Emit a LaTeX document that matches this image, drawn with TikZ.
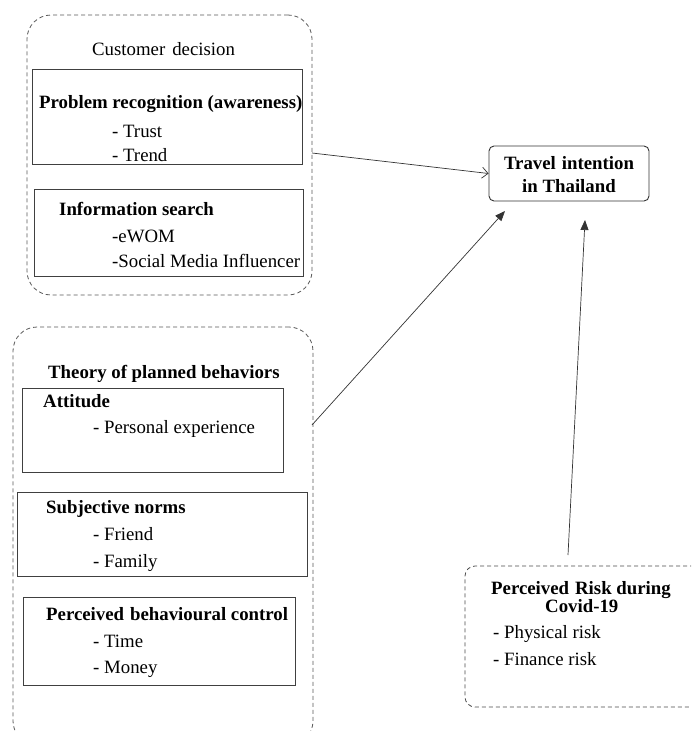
\documentclass[tikz,border=0pt]{standalone}
\usepackage{fontspec}
\setmainfont{Liberation Serif}
\usetikzlibrary{arrows.meta}
\begin{document}
\begin{tikzpicture}[x=1pt,y=-1pt,
  outerbox/.style={draw=black!65,line width=0.8pt,dash pattern=on 4pt off 3pt,rounded corners=24pt},
  riskbox/.style={draw=black!70,line width=0.8pt,dash pattern=on 4pt off 3pt,rounded corners=10pt},
  innerbox/.style={draw=black!75,line width=0.9pt},
  txt/.style={anchor=base west,inner sep=0pt,font=\fontsize{18.8}{22}\selectfont},
  btxt/.style={txt,font=\fontsize{18.8}{22}\selectfont\bfseries},
  conn/.style={draw=black!80,line width=0.7pt},
  filltip/.style={-{Triangle[length=10pt,width=8pt]}},
  opentip/.style={-{Straight Barb[length=6pt,width=11pt]}}
]
\useasboundingbox (0,0) rectangle (691,731);
\clip (0,0) rectangle (691,731);
\fill[white] (0,0) rectangle (691,731);

% Customer decision group
\node[outerbox,inner sep=0pt,minimum width=285pt,minimum height=280pt] (cd) at (169.5,155) {};
\node[txt] (cdt) at (92,55) {Customer\hspace{7pt}decision};
\node[innerbox,inner sep=0pt,minimum width=270pt,minimum height=95pt] (pr) at (167,116.5) {};
\node[btxt] (prt) at (39,108) {Problem recognition (awareness)};
\node[txt] (pr1) at (112,137) {- Trust};
\node[txt] (pr2) at (112,161) {- Trend};
\node[innerbox,inner sep=0pt,minimum width=269pt,minimum height=87pt] (is) at (168.5,232.5) {};
\node[btxt] (ist) at (59,215) {Information search};
\node[txt] (is1) at (112,242) {-eWOM};
\node[txt] (is2) at (112,267) {-Social Media Influencer};

% Theory of planned behaviors group
\node[outerbox,inner sep=0pt,minimum width=300pt,minimum height=418pt] (tpb) at (163,536) {};
\node[btxt] (tpbt) at (48,378) {Theory of planned behaviors};
\node[innerbox,inner sep=0pt,minimum width=261pt,minimum height=84pt] (att) at (152.5,430) {};
\node[btxt] (attt) at (43,407) {Attitude};
\node[txt] (att1) at (93,433) {- Personal experience};
\node[innerbox,inner sep=0pt,minimum width=290pt,minimum height=84pt] (sn) at (162,534) {};
\node[btxt] (snt) at (46,513) {Subjective norms};
\node[txt] (sn1) at (93,540) {- Friend};
\node[txt] (sn2) at (93,567) {- Family};
\node[innerbox,inner sep=0pt,minimum width=272pt,minimum height=88pt] (pbc) at (159,641) {};
\node[btxt] (pbct) at (46,620) {Perceived\hspace{6pt}behavioural control};
\node[txt] (pbc1) at (93,647) {- Time};
\node[txt] (pbc2) at (93,673) {- Money};

% Travel intention
\node[draw=black!80,line width=0.9pt,rounded corners=5pt,inner sep=0pt,minimum width=160pt,minimum height=55pt] (ti) at (569,173.5) {};
\node[btxt,anchor=base] (ti1) at (569,169) {Travel\hspace{6pt}intention};
\node[btxt,anchor=base] (ti2) at (569,192) {in Thailand};

% Perceived risk
\node[riskbox,inner sep=0pt,minimum width=260pt,minimum height=141pt] (risk) at (595,636.5) {};
\node[btxt] (riskt) at (491,594) {Perceived\hspace{6pt}Risk during};
\node[btxt] (riskt2) at (545,612) {Covid-19};
\node[txt] (risk1) at (493,638) {- Physical risk};
\node[txt] (risk2) at (493,665) {- Finance risk};

% connectors
\coordinate (a1s) at (312,153);
\coordinate (a2s) at (312,425);
\coordinate (a2e) at (505,211);
\coordinate (a3s) at (568,555);
\coordinate (a3e) at (585,220);
\draw[conn,opentip] (a1s) -- (ti.west);
\draw[conn,filltip] (a2s) -- (a2e);
\draw[conn,filltip] (a3s) -- (a3e);
\end{tikzpicture}
\end{document}
